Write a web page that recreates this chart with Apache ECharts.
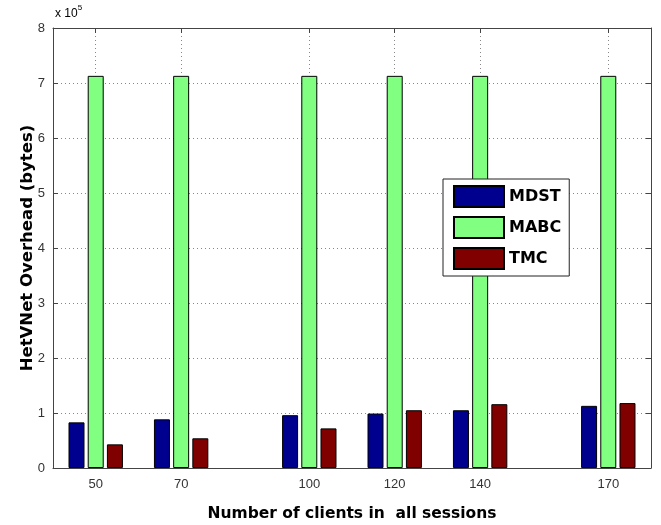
<!DOCTYPE html>
<html>
<head>
<meta charset="utf-8">
<script src="https://cdn.jsdelivr.net/npm/echarts@6/dist/echarts.min.js"></script>
<style>
  html, body { margin: 0; padding: 0; background: #fff; }
  #chart { width: 661px; height: 525px; }
</style>
</head>
<body>
<div id="chart"></div>
<script>
const clients = [50, 70, 100, 120, 140, 170];
const mdst = [83000, 88500, 96000, 99000, 105000, 113000];
const mabc = [713000, 713000, 713000, 713000, 713000, 713000];
const tmc = [43000, 54000, 72000, 105000, 116000, 118000];
const yTicks = [0, 1, 2, 3, 4, 5, 6, 7, 8];

const chart = echarts.init(document.getElementById('chart'), null, { renderer: 'canvas' });

const font = 'Liberation Sans, Arial, sans-serif';
const boldFont = 'DejaVu Sans, Arial, sans-serif';
const pairs = arr => clients.map((c, i) => [c, arr[i]]);

const barStyle = color => ({ color: color, borderColor: '#000', borderWidth: 1 });

let option = {
    backgroundColor: '#fff',
    animation: false,
    textStyle: { fontFamily: font },
    grid: { left: 53, right: 10, top: 28, bottom: 57, show: false, outerBoundsMode: 'none' },
    legend: {
        orient: 'vertical',
        left: 443,
        top: 179,
        padding: [6, 8, 6, 10],
        icon: 'rect',
        itemWidth: 50,
        itemHeight: 21,
        itemGap: 8,
        borderColor: '#222',
        borderWidth: 1,
        backgroundColor: '#fff',
        textStyle: { fontFamily: boldFont, fontWeight: 'bold', fontSize: 16, color: '#000' },
        data: ['MDST', 'MABC', 'TMC']
    },
    graphic: [{
        type: 'text',
        left: 55,
        top: 4,
        style: {
            text: '{a|x 10}{b|5}',
            rich: {
                a: { fontFamily: font, fontSize: 12, color: '#333', padding: [6, 0, 0, 0] },
                b: { fontFamily: font, fontSize: 8, color: '#333', padding: [0, 0, 6, 0] }
            }
        }
    }],
    xAxis: [{
        type: 'value',
        min: 40,
        max: 180,
        name: 'Number of clients in  all sessions',
        nameLocation: 'middle',
        nameGap: 38,
        nameMoveOverlap: false,
        nameTextStyle: { fontFamily: boldFont, fontWeight: 'bold', fontSize: 15.5, color: '#000' },
        axisLine: { lineStyle: { color: '#444' } },
        axisTick: { inside: true, length: 5, customValues: clients, lineStyle: { color: '#444' } },
        axisLabel: { customValues: clients, fontSize: 13, color: '#333', margin: 10 },
        splitLine: { show: true, lineStyle: { type: [1, 3], color: '#888' } }
    }, {
        type: 'value',
        position: 'top',
        min: 40,
        max: 180,
        axisLine: { show: true, onZero: false, lineStyle: { color: '#444' } },
        axisTick: { inside: true, length: 5, customValues: clients, lineStyle: { color: '#444' } },
        axisLabel: { show: false },
        splitLine: { show: false }
    }],
    yAxis: [{
        type: 'value',
        min: 0,
        max: 800000,
        interval: 100000,
        name: 'HetVNet Overhead (bytes)',
        nameLocation: 'middle',
        nameGap: 17,
        nameMoveOverlap: false,
        nameTextStyle: { fontFamily: boldFont, fontWeight: 'bold', fontSize: 16.5, color: '#000' },
        axisLine: { show: true, lineStyle: { color: '#444' } },
        axisTick: { show: true, inside: true, length: 5, lineStyle: { color: '#444' } },
        axisLabel: {
            fontSize: 13, color: '#333', margin: 8,
            formatter: v => String(yTicks[Math.round(v / 100000)])
        },
        splitLine: { show: true, lineStyle: { type: [1, 3], color: '#888' } }
    }, {
        type: 'value',
        position: 'right',
        min: 0,
        max: 800000,
        interval: 100000,
        axisLine: { show: true, lineStyle: { color: '#444' } },
        axisTick: { show: true, inside: true, length: 5, lineStyle: { color: '#444' } },
        axisLabel: { show: false },
        splitLine: { show: false }
    }],
    series: [
        {
            name: 'MDST', type: 'bar', data: pairs(mdst),
            barWidth: 16, barGap: '20%', itemStyle: barStyle('#00008F')
        },
        {
            name: 'MABC', type: 'bar', data: pairs(mabc),
            barWidth: 16, barGap: '20%', itemStyle: barStyle('#80FF80')
        },
        {
            name: 'TMC', type: 'bar', data: pairs(tmc),
            barWidth: 16, barGap: '20%', itemStyle: barStyle('#800000')
        }
    ]
};

option && chart.setOption(option);
</script>
</body>
</html>
